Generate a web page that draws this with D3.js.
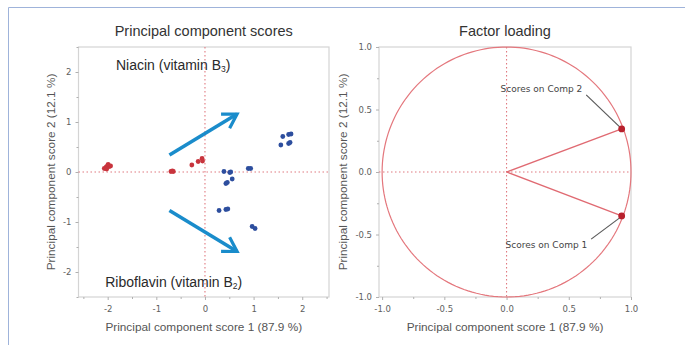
<!DOCTYPE html>
<html><head><meta charset="utf-8">
<script src="https://cdn.jsdelivr.net/npm/d3@7"></script>
<style>body{margin:0;background:#fff}svg{display:block}</style>
</head><body><svg id="c" width="685" height="345"></svg>
<script>
// ---- data ----
const scoreTicksX = [-2, -1, 0, 1, 2];
const scoreTicksY = [-2, -1, 0, 1, 2];
const loadTicks = [-1.0, -0.5, 0.0, 0.5, 1.0];
const redScores = [
  [-2.07, 0.07], [-2.03, 0.10], [-2.00, 0.13], [-1.97, 0.11], [-1.94, 0.12], [-2.02, 0.06], [-1.99, 0.15],
  [-0.70, 0.01], [-0.67, 0.02], [-0.65, 0.01],
  [-0.27, 0.14], [-0.14, 0.21], [-0.06, 0.27], [-0.05, 0.22]
];
const blueScores = [
  [0.39, 0.01], [0.51, -0.01], [0.53, 0.00], [0.46, -0.21], [0.43, -0.23], [0.56, -0.14],
  [0.89, 0.07], [0.94, 0.07], [0.29, -0.77], [0.43, -0.75], [0.47, -0.74],
  [0.97, -1.09], [1.03, -1.13],
  [1.60, 0.71], [1.72, 0.75], [1.77, 0.76], [1.56, 0.54], [1.72, 0.57], [1.75, 0.59]
];
const arrows = [
  {from: [-0.73, 0.34], to: [0.66, 1.16]},
  {from: [-0.73, -0.77], to: [0.66, -1.59]}
];
const loadings = [
  {name: "Scores on Comp 2", x: 0.925, y: 0.345, lx: 0.28, ly: 0.665},
  {name: "Scores on Comp 1", x: 0.925, y: -0.351, lx: 0.32, ly: -0.585}
];
const titles = ["Principal component scores", "Factor loading"];
const xLabel = "Principal component score 1 (87.9 %)";
const yLabel = "Principal component score 2 (12.1 %)";

// ---- drawing ----
const svg = d3.select("#c");
svg.append("path").attr("d", "M8.5,345 V7.5 H685").attr("fill", "none").attr("stroke", "#9fb3da").attr("stroke-width", 1);

const tickFont = "DejaVu Sans, Verdana, sans-serif";
const textFont = "Liberation Sans, Arial, Helvetica, sans-serif";
const hy = f => (d => f(d).replace("\u2212", "-"));

function panel(opt) {
  const {x, y, ticksX, ticksY, minorX, minorY, fmt} = opt;
  const g = svg.append("g");
  const [x0, x1] = x.range(), [y0, y1] = y.range();
  g.append("rect").attr("x", x0).attr("y", y1).attr("width", x1 - x0).attr("height", y0 - y1)
    .attr("fill", "none").attr("stroke", "#d4d4d4").attr("stroke-width", 1.2);
  const ax = g.append("g").attr("transform", `translate(0,${y0})`)
    .call(d3.axisBottom(x).tickValues(ticksX).tickFormat(fmt).tickSize(3).tickPadding(6));
  const axm = g.append("g").attr("transform", `translate(0,${y0})`)
    .call(d3.axisBottom(x).tickValues(minorX).tickFormat("").tickSize(2));
  const ay = g.append("g").attr("transform", `translate(${x0},0)`)
    .call(d3.axisLeft(y).tickValues(ticksY).tickFormat(fmt).tickSize(3).tickPadding(4));
  const aym = g.append("g").attr("transform", `translate(${x0},0)`)
    .call(d3.axisLeft(y).tickValues(minorY).tickFormat("").tickSize(2));
  [ax, axm, ay, aym].forEach(a => {
    a.select(".domain").remove();
    a.selectAll("line").attr("stroke", "#b0b0b0");
    a.selectAll("text").attr("fill", "#5e5e5e").style("font-family", tickFont).style("font-size", "8.5px");
  });
  g.append("line").attr("x1", x(0)).attr("x2", x(0)).attr("y1", y1).attr("y2", y0)
    .attr("stroke", "#e07a80").attr("stroke-width", 1.1).attr("stroke-dasharray", "1.5,2.5");
  g.append("line").attr("x1", x0).attr("x2", x1).attr("y1", y(0)).attr("y2", y(0))
    .attr("stroke", "#e07a80").attr("stroke-width", 1.1).attr("stroke-dasharray", "1.5,2.5");
  const cx = (x0 + x1) / 2;
  svg.append("text").attr("x", cx).attr("y", 36).attr("text-anchor", "middle")
    .style("font-family", textFont).style("font-size", "14.5px").attr("fill", "#333").text(opt.title);
  svg.append("text").attr("x", cx).attr("y", 331).attr("text-anchor", "middle")
    .style("font-family", textFont).style("font-size", "11.8px").attr("fill", "#555").text(xLabel);
  svg.append("text").attr("transform", `translate(${opt.ylx},${(y0 + y1) / 2}) rotate(-90)`)
    .attr("text-anchor", "middle")
    .style("font-family", textFont).style("font-size", "11.8px").attr("fill", "#555").text(yLabel);
  return g;
}

// ---- left panel ----
const xs = d3.scaleLinear().domain([-2.6, 2.55]).range([78.5, 329]);
const ys = d3.scaleLinear().domain([-2.5, 2.5]).range([297, 47]);
const gL = panel({x: xs, y: ys, ticksX: scoreTicksX, ticksY: scoreTicksY,
  minorX: [-2.5, -1.5, -0.5, 0.5, 1.5, 2.5], minorY: [-2.5, -1.5, -0.5, 0.5, 1.5, 2.5],
  fmt: hy(d3.format("d")), title: titles[0], ylx: 55});

gL.selectAll("circle.r").data(redScores).join("circle").attr("class", "r")
  .attr("cx", d => xs(d[0])).attr("cy", d => ys(d[1])).attr("r", 2.4).attr("fill", "#c8343d");
gL.selectAll("circle.b").data(blueScores).join("circle").attr("class", "b")
  .attr("cx", d => xs(d[0])).attr("cy", d => ys(d[1])).attr("r", 2.4).attr("fill", "#2d4e9e");

const arrowCol = "#1a8ccb";
arrows.forEach(a => {
  const p0 = [xs(a.from[0]), ys(a.from[1])], p1 = [xs(a.to[0]), ys(a.to[1])];
  gL.append("line").attr("x1", p0[0]).attr("y1", p0[1]).attr("x2", p1[0]).attr("y2", p1[1])
    .attr("stroke", arrowCol).attr("stroke-width", 3.6);
  const ang = Math.atan2(p0[1] - p1[1], p0[0] - p1[0]);
  const L = 16, spread = 31 * Math.PI / 180;
  const b1 = [p1[0] + L * Math.cos(ang + spread), p1[1] + L * Math.sin(ang + spread)];
  const b2 = [p1[0] + L * Math.cos(ang - spread), p1[1] + L * Math.sin(ang - spread)];
  gL.append("path").attr("d", `M${b1[0]},${b1[1]} L${p1[0]},${p1[1]} L${b2[0]},${b2[1]}`)
    .attr("fill", "none").attr("stroke", arrowCol).attr("stroke-width", 3.2)
    .attr("stroke-linejoin", "miter").attr("stroke-linecap", "butt");
});

function subLabel(x, y, main, sub, tail) {
  const t = gL.append("text").attr("x", x).attr("y", y)
    .style("font-family", textFont).style("font-size", "14px").attr("fill", "#2a2a2a");
  t.append("tspan").text(main);
  t.append("tspan").attr("dy", 2).style("font-size", "8.5px").text(sub);
  t.append("tspan").attr("dy", -2).text(tail);
}
subLabel(xs(-1.83), ys(2.05), "Niacin (vitamin B", "3", ")");
subLabel(xs(-2.05), ys(-2.3), "Riboflavin (vitamin B", "2", ")");

// ---- right panel ----
const xr = d3.scaleLinear().domain([-1.025, 1.0]).range([379, 631]);
const yr = d3.scaleLinear().domain([-1, 1]).range([297, 47]);
const gR = panel({x: xr, y: yr, ticksX: loadTicks, ticksY: loadTicks,
  minorX: [-0.75, -0.25, 0.25, 0.75], minorY: [-0.75, -0.25, 0.25, 0.75],
  fmt: hy(d3.format(".1f")), title: titles[1], ylx: 347});

const circ = d3.range(0, 361, 2).map(a => [Math.cos(a * Math.PI / 180), Math.sin(a * Math.PI / 180)]);
gR.append("path").datum(circ)
  .attr("d", d3.line().x(d => xr(d[0])).y(d => yr(d[1])).curve(d3.curveLinearClosed))
  .attr("fill", "none").attr("stroke", "#e4777d").attr("stroke-width", 1.2);

loadings.forEach(l => {
  gR.append("line").attr("x1", xr(0)).attr("y1", yr(0)).attr("x2", xr(l.x)).attr("y2", yr(l.y))
    .attr("stroke", "#e06a72").attr("stroke-width", 1.3);
  const up = l.y > 0;
  gR.append("line").attr("x1", xr(l.lx + 0.36)).attr("y1", yr(l.ly) + (up ? 6 : -6))
    .attr("x2", xr(l.x) - 2).attr("y2", yr(l.y) + (up ? -2 : 2))
    .attr("stroke", "#5a5a5a").attr("stroke-width", 1.2);
  gR.append("circle").attr("cx", xr(l.x)).attr("cy", yr(l.y)).attr("r", 3.4).attr("fill", "#b8202c");
  gR.append("text").attr("x", xr(l.lx)).attr("y", yr(l.ly) + 3).attr("text-anchor", "middle")
    .style("font-family", tickFont).style("font-size", "9px").attr("fill", "#444").text(l.name);
});
</script></body></html>
